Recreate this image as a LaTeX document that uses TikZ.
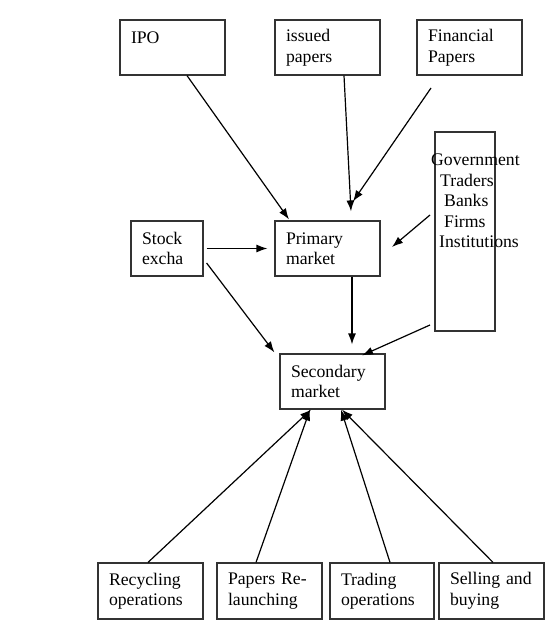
\documentclass[tikz,border=0pt]{standalone}
\usepackage{fontspec}
\setmainfont{Liberation Serif}
\usetikzlibrary{arrows.meta}

\begin{document}
\begin{tikzpicture}
  [x=1pt,y=-1pt,
   every node/.style={font=\fontsize{17.7}{20.5}\selectfont},
   box/.style={draw=black!80,line width=1.2pt,minimum height=55pt,inner xsep=11pt,inner ysep=0pt,align=left},
   wide/.style={box,text width=83pt},
   link/.style={-{Latex[length=11pt,width=8pt]},line width=1.2pt}]
  \useasboundingbox (0,0) rectangle (549,628);

  \node[wide] (ipo) at (172.5,47.5) {IPO\\\mbox{}};
  \node[wide] (issued) at (327.5,47.5) {issued\\papers};
  \node[wide] (fin) at (469.5,47.5) {Financial\\Papers};
  \node[box,text width=50pt] (stock) at (167,248.5) {Stock\\excha};
  \node[wide] (primary) at (327.5,248.5) {Primary\\market};
  \node[draw=black!80,line width=1.2pt,minimum width=60pt,minimum height=199pt,inner sep=0pt] (gov) at (465,231.5) {};
  \node[anchor=north west,inner sep=0pt,align=left] (govlist) at (431,154)
    {Government\\\hspace*{9pt}Traders\\\hspace*{13pt}Banks\\\hspace*{13pt}Firms\\\hspace*{8pt}Institutions};
  \node[wide] (secondary) at (332.5,381.5) {Secondary\\market};
  \node[wide,minimum height=56pt] (recycling) at (150.5,591) {Recycling\\operations};
  \node[wide,minimum height=56pt] (relaunch) at (269.5,591) {Papers Re-\\launching};
  \node[box,text width=82pt,minimum height=56pt] (trading) at (382,591) {Trading\\operations};
  \node[wide,minimum height=56pt] (selling) at (491.5,591) {Selling and\\buying};

  % free ends
  \coordinate (finstart) at (431,88);
  \coordinate (govtop) at (430,215);
  \coordinate (govlow) at (430,325);
  \coordinate (primright) at (392,247);

  \draw[link] ([xshift=14.5pt]ipo.south) -- ([xshift=-38.5pt,yshift=1pt]primary.north);
  \draw[link] ([xshift=16.5pt]issued.south) -- ([xshift=23.5pt,yshift=9pt]primary.north);
  \draw[link] (finstart) -- ([xshift=25.5pt,yshift=19pt]primary.north);
  \draw[link] (govtop) -- (primright);
  \draw[link] ([xshift=3pt]stock.east) -- ([xshift=-7pt]primary.west);
  \draw[link] ([xshift=3pt,yshift=-14.5pt]stock.east) -- ([xshift=-5pt,yshift=1pt]secondary.north west);
  \draw[link] ([xshift=24.5pt]primary.south) -- ([xshift=19.5pt,yshift=9pt]secondary.north);
  \draw[link] (govlow) -- ([xshift=29.5pt,yshift=-2pt]secondary.north);

  \foreach \from/\dx/\ex in {recycling/-2.5/-21.5,relaunch/-13.5/-22.5,trading/8/8.5,selling/1.5/9.5}
    \draw[link] ([xshift=\dx pt]\from.north) -- ([xshift=\ex pt]secondary.south);
\end{tikzpicture}
\end{document}
